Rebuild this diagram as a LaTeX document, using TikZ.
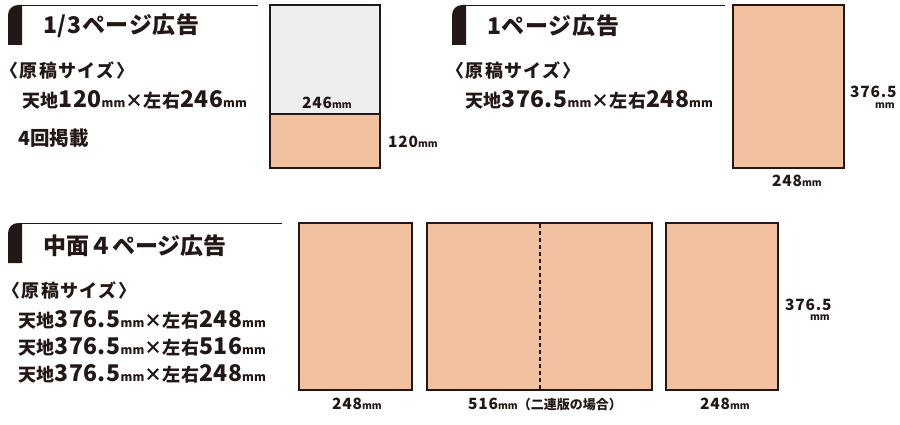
\documentclass[tikz,border=0pt]{standalone}
\usepackage{fontspec}
\newfontfamily\jp{Noto Sans CJK JP}
\definecolor{ink}{HTML}{231815}
\definecolor{salmon}{HTML}{F2C19F}
\definecolor{paper}{HTML}{EEEEEE}
\newcommand\fs[1]{\fontsize{#1}{#1}\selectfont}
\newcommand\bnum[1]{{\fs{23}#1}}
\newcommand\umm{{\fs{12}mm}}
\newcommand\snum[1]{{\fs{15.5}\addfontfeatures{LetterSpace=5}#1}}
\newcommand\smm{{\fs{10}mm}}
\begin{document}
\begin{tikzpicture}[x=1pt,y=-1pt,
  every node/.style={inner sep=0pt, text=ink, font=\jp\bfseries},
  tab/.style={fill=ink},
  rule/.style={draw=ink, line width=1.2pt},
  adbox/.style={draw=ink, line width=2.2pt},
  title/.style={anchor=west, font=\jp\bfseries\fs{23}\addfontfeatures{LetterSpace=3}},
  sub/.style={anchor=west, font=\jp\bfseries\fs{18}\addfontfeatures{LetterSpace=8}},
  size/.style={anchor=west, font=\jp\bfseries\fs{18}\addfontfeatures{LetterSpace=2}},
  dim/.style={font=\jp\bfseries}]
\useasboundingbox (0,0) rectangle (900,425);
% header tabs
\fill[tab] (8,45) [rounded corners=10pt] -- (8,5) [sharp corners] -- (22,5) -- (22,45) -- cycle;
\draw[rule] (22,5.6) -- (258,5.6);
\fill[tab] (452,45) [rounded corners=10pt] -- (452,5) [sharp corners] -- (466,5) -- (466,45) -- cycle;
\draw[rule] (466,5.6) -- (725,5.6);
\fill[tab] (8,263) [rounded corners=10pt] -- (8,223) [sharp corners] -- (22,223) -- (22,263) -- cycle;
\draw[rule] (22,223.6) -- (282,223.6);
% titles
\node[title] (t1) at (43,26) {1/3ページ広告};
\node[title] (t2) at (487,26) {1ページ広告};
\node[title, font=\jp\bfseries\fs{23}] (t3) at (43,246) {中面４ページ広告};
% sub labels
\node[sub] (s1) at (0,70) {〈原稿サイズ〉};
\node[sub] (s2) at (446,70) {〈原稿サイズ〉};
\node[sub] (s3) at (2,290) {〈原稿サイズ〉};
\node[size] (z1) at (22,100) {天地\bnum{120}\umm×左右\bnum{246}\umm};
\node[size] (z2) at (465,100) {天地\bnum{376.5}\umm×左右\bnum{248}\umm};
\node[size] (z3) at (18,320) {天地\bnum{376.5}\umm×左右\bnum{248}\umm};
\node[size] (z4) at (18,347) {天地\bnum{376.5}\umm×左右\bnum{516}\umm};
\node[size] (z5) at (18,374) {天地\bnum{376.5}\umm×左右\bnum{248}\umm};
\node[size, font=\jp\bfseries\fs{19.5}] (n4) at (18,138) {4回掲載};
% box 1
\fill[paper] (270,5) rectangle (380,114);
\fill[salmon] (270,114) rectangle (380,168);
\draw[adbox] (270,114) -- (380,114);
\draw[adbox] (270,5) rectangle (380,168);
\node[dim] (d1) at (327,103) {\snum{246}\smm};
\node[dim, anchor=west] (d2) at (388,142) {\snum{120}\smm};
% box 2
\draw[adbox, fill=salmon] (733,5) rectangle (844,168);
\node[dim, anchor=west] (d3) at (850,92) {\snum{376.5}};
\node[dim, anchor=east] (d4) at (895,106) {\smm};
\node[dim] (d5) at (797,181) {\snum{248}\smm};
% row 3 boxes
\draw[adbox, fill=salmon] (299,223) rectangle (412,390);
\draw[adbox, fill=salmon] (427,223) rectangle (652,390);
\draw[ink, line width=1.8pt, dash pattern=on 4pt off 3pt] (540,224) -- (540,389);
\draw[adbox, fill=salmon] (666,223) rectangle (778,390);
\node[dim] (d6) at (357,404) {\snum{248}\smm};
\node[dim] (d7) at (545,404) {\snum{516}\smm{\fs{13}（二連版の場合）}};
\node[dim] (d8) at (725,404) {\snum{248}\smm};
\node[dim, anchor=west] (d9) at (785,305) {\snum{376.5}};
\node[dim, anchor=east] (d10) at (830,318) {\smm};
\end{tikzpicture}
\end{document}
